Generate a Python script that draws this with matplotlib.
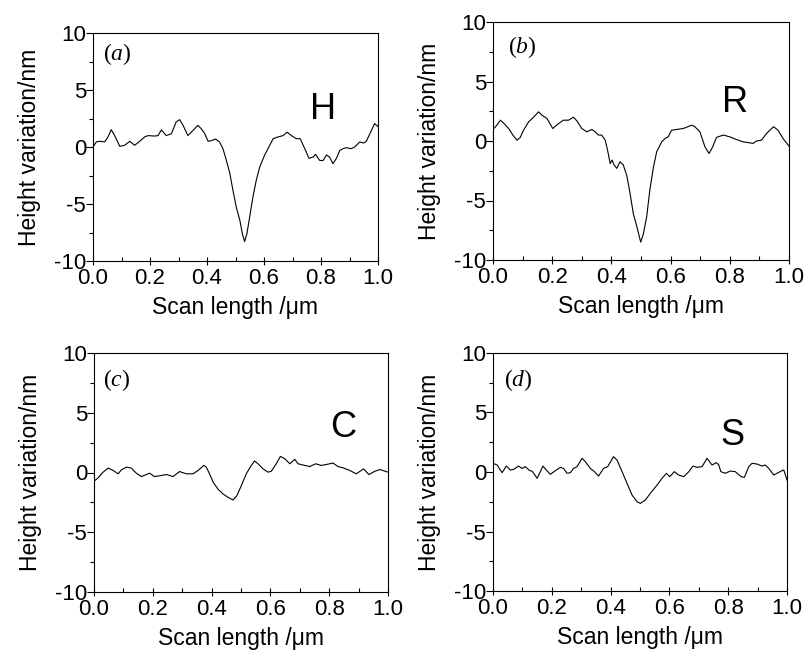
import matplotlib
matplotlib.use("Agg")
import matplotlib.pyplot as plt
from matplotlib.ticker import MultipleLocator

plt.rcParams["font.family"] = ["Liberation Sans", "DejaVu Sans"]
plt.rcParams["axes.unicode_minus"] = False
plt.rcParams["mathtext.fontset"] = "custom"
plt.rcParams["mathtext.it"] = "Liberation Serif:italic"
plt.rcParams["mathtext.rm"] = "Liberation Serif"

# Panel (a) - H
x_h = [0.0, 0.012, 0.023, 0.041, 0.053, 0.064, 0.076, 0.094, 0.111, 0.129, 0.146, 0.164,
       0.181, 0.193, 0.216, 0.228, 0.24, 0.257, 0.275, 0.292, 0.304, 0.316, 0.333, 0.351,
       0.368, 0.38, 0.392, 0.404, 0.415, 0.43, 0.444, 0.456, 0.468, 0.48, 0.491, 0.503,
       0.515, 0.524, 0.532, 0.54, 0.55, 0.561, 0.573, 0.585, 0.602, 0.62, 0.632, 0.649,
       0.667, 0.681, 0.696, 0.713, 0.727, 0.743, 0.758, 0.772, 0.781, 0.795, 0.807, 0.819,
       0.83, 0.842, 0.854, 0.866, 0.877, 0.889, 0.906, 0.918, 0.936, 0.95, 0.959, 0.977,
       0.988, 1.0]
y_h = [0.0, 0.45, 0.5, 0.45, 0.9, 1.52, 1.0, 0.06, 0.15, 0.5, 0.15, 0.5,
       0.88, 1.0, 0.96, 1.0, 1.5, 1.0, 1.17, 2.2, 2.4, 1.9, 1.0, 1.46,
       1.9, 1.6, 1.17, 0.5, 0.55, 0.7, 0.44, -0.15, -1.17, -2.3, -3.8, -5.3,
       -6.4, -7.6, -8.3, -7.6, -6.1, -4.4, -2.9, -1.75, -0.73, 0.15, 0.73, 0.88,
       1.0, 1.3, 1.0, 0.73, 0.73, -0.15, -1.0, -0.88, -0.64, -1.17, -1.2, -0.7,
       -0.88, -1.46, -1.0, -0.3, -0.15, -0.06, -0.15, 0.0, 0.44, 0.35, 0.5, 1.46,
       2.05, 1.8]

# Panel (b) - R
x_r = [0.0, 0.013, 0.025, 0.036, 0.053, 0.067, 0.081, 0.092, 0.103, 0.12, 0.137, 0.154,
       0.165, 0.182, 0.202, 0.218, 0.238, 0.255, 0.272, 0.283, 0.3, 0.317, 0.334, 0.345,
       0.356, 0.367, 0.379, 0.387, 0.396, 0.402, 0.409, 0.418, 0.429, 0.44, 0.452, 0.463,
       0.474, 0.485, 0.499, 0.508, 0.519, 0.53, 0.542, 0.553, 0.57, 0.581, 0.592, 0.603,
       0.62, 0.643, 0.671, 0.682, 0.699, 0.716, 0.73, 0.742, 0.755, 0.778, 0.8, 0.822,
       0.845, 0.879, 0.89, 0.907, 0.924, 0.948, 0.963, 0.98, 1.0]
y_r = [0.97, 1.33, 1.75, 1.5, 1.05, 0.5, 0.07, 0.3, 0.9, 1.6, 2.0, 2.45,
       2.17, 1.9, 1.05, 1.4, 1.75, 1.75, 2.0, 1.7, 1.05, 0.77, 0.97, 0.77,
       0.5, 0.5, 0.07, -0.77, -1.9, -1.6, -2.0, -2.3, -1.75, -2.0, -2.9, -4.4,
       -6.1, -7.1, -8.5, -7.8, -6.4, -4.1, -2.2, -0.9, -0.07, 0.2, 0.35, 0.9,
       0.97, 1.05, 1.33, 1.2, 0.77, -0.49, -1.05, -0.5, 0.3, 0.5, 0.35, 0.13,
       -0.07, -0.2, 0.0, 0.07, 0.63, 1.2, 0.9, 0.2, -0.43]

# Panel (c) - C
x_c = [0.0, 0.014, 0.031, 0.048, 0.065, 0.082, 0.093, 0.11, 0.127, 0.144, 0.161, 0.189,
       0.206, 0.229, 0.246, 0.269, 0.291, 0.314, 0.337, 0.354, 0.373, 0.382, 0.393, 0.405,
       0.422, 0.439, 0.456, 0.473, 0.486, 0.501, 0.518, 0.535, 0.546, 0.558, 0.575, 0.592,
       0.603, 0.62, 0.634, 0.649, 0.666, 0.683, 0.694, 0.717, 0.734, 0.754, 0.773, 0.79,
       0.813, 0.83, 0.847, 0.87, 0.892, 0.909, 0.917, 0.935, 0.955, 0.972, 1.0]
y_c = [-0.73, -0.45, 0.03, 0.37, 0.17, -0.11, 0.22, 0.45, 0.37, -0.06, -0.34, -0.06,
       -0.34, -0.25, -0.17, -0.34, 0.08, -0.11, -0.11, 0.17, 0.59, 0.45, -0.11, -0.8,
       -1.4, -1.8, -2.08, -2.3, -1.94, -1.1, -0.11, 0.59, 0.96, 0.73, 0.3, 0.03,
       0.1, 0.73, 1.35, 1.15, 0.73, 1.1, 0.73, 0.59, 0.5, 0.73, 0.59, 0.67,
       0.79, 0.5, 0.39, 0.17, -0.11, 0.17, 0.3, -0.17, 0.1, 0.25, 0.03]

# Panel (d) - S
x_s = [0.0, 0.014, 0.031, 0.045, 0.059, 0.07, 0.087, 0.099, 0.11, 0.125, 0.133, 0.15,
       0.161, 0.17, 0.181, 0.195, 0.212, 0.229, 0.24, 0.252, 0.263, 0.274, 0.286, 0.303,
       0.314, 0.331, 0.345, 0.359, 0.376, 0.39, 0.41, 0.422, 0.439, 0.456, 0.473, 0.49,
       0.501, 0.518, 0.535, 0.558, 0.575, 0.59, 0.601, 0.617, 0.631, 0.649, 0.666, 0.68,
       0.694, 0.711, 0.728, 0.745, 0.76, 0.768, 0.775, 0.79, 0.807, 0.824, 0.844, 0.855,
       0.87, 0.881, 0.898, 0.915, 0.926, 0.938, 0.955, 0.966, 0.983, 0.989, 1.0]
y_s = [0.73, 0.59, -0.06, 0.5, 0.17, 0.22, 0.5, 0.3, 0.45, 0.11, 0.08, -0.53,
       0.03, 0.5, 0.17, -0.2, 0.11, 0.39, 0.3, -0.11, -0.06, 0.3, 0.45, 1.15,
       0.87, 0.3, 0.03, -0.34, 0.3, 0.45, 1.29, 1.0, 0.03, -0.96, -1.94, -2.5,
       -2.64, -2.36, -1.8, -1.1, -0.53, -0.11, -0.39, 0.03, -0.25, -0.39, 0.03, 0.5,
       0.39, 0.45, 1.15, 0.59, 0.79, 0.59, 0.03, -0.11, 0.08, 0.03, -0.39, -0.45,
       0.45, 0.73, 0.67, 0.5, 0.59, 0.3, -0.25, -0.11, 0.11, 0.17, -0.67]

panels = [
    (x_h, y_h, "a", "H", (93, 378, 33, 261), (0.085, 0.908), (0.807, 3.3)),
    (x_r, y_r, "b", "R", (493, 789, 22, 260), (0.098, 0.895), (0.818, 3.2)),
    (x_c, y_c, "c", "C", (94, 388, 353, 592), (0.078, 0.887), (0.847, 3.8)),
    (x_s, y_s, "d", "S", (493, 787, 353, 591), (0.085, 0.887), (0.816, 3.1)),
]

W, H = 808, 664
fig = plt.figure(figsize=(W / 100, H / 100), dpi=100)

for xs, ys, tag, name, box, tagpos, namepos in panels:
    l, r, t, b = box
    ax = fig.add_axes([l / W, 1 - b / H, (r - l) / W, (b - t) / H])
    ax.plot(xs, ys, color="black", linewidth=0.8)
    ax.set_xlim(0, 1)
    ax.set_ylim(-10, 10)
    ax.xaxis.set_minor_locator(MultipleLocator(0.1))
    ax.yaxis.set_major_locator(MultipleLocator(5))
    ax.yaxis.set_minor_locator(MultipleLocator(2.5))
    ax.set_xticks([0, 0.2, 0.4, 0.6, 0.8, 1.0])
    ax.set_xticklabels(["0.0", "0.2", "0.4", "0.6", "0.8", "1.0"])
    ax.tick_params(axis="x", which="major", direction="inout", length=6, width=0.8,
                   labelsize=16, pad=2)
    ax.tick_params(axis="x", which="minor", direction="in", length=3, width=0.8)
    ax.tick_params(axis="y", which="major", direction="out", length=5, width=0.8,
                   labelsize=16, pad=0)
    ax.tick_params(axis="y", which="minor", direction="out", length=3, width=0.8)
    for sp in ax.spines.values():
        sp.set_linewidth(0.8)
    ax.set_xlabel("Scan length /\u03bcm", fontsize=16.5, labelpad=5)
    ax.set_ylabel("Height variation/nm", fontsize=16.5, labelpad=9)
    ax.text(tagpos[0], tagpos[1], "($\\mathit{%s}$)" % tag, transform=ax.transAxes,
            family="Liberation Serif", fontsize=17, ha="center", va="center")
    ax.text(namepos[0], namepos[1], name, fontsize=26, ha="center", va="center")

fig.savefig("out.png", dpi=100)
